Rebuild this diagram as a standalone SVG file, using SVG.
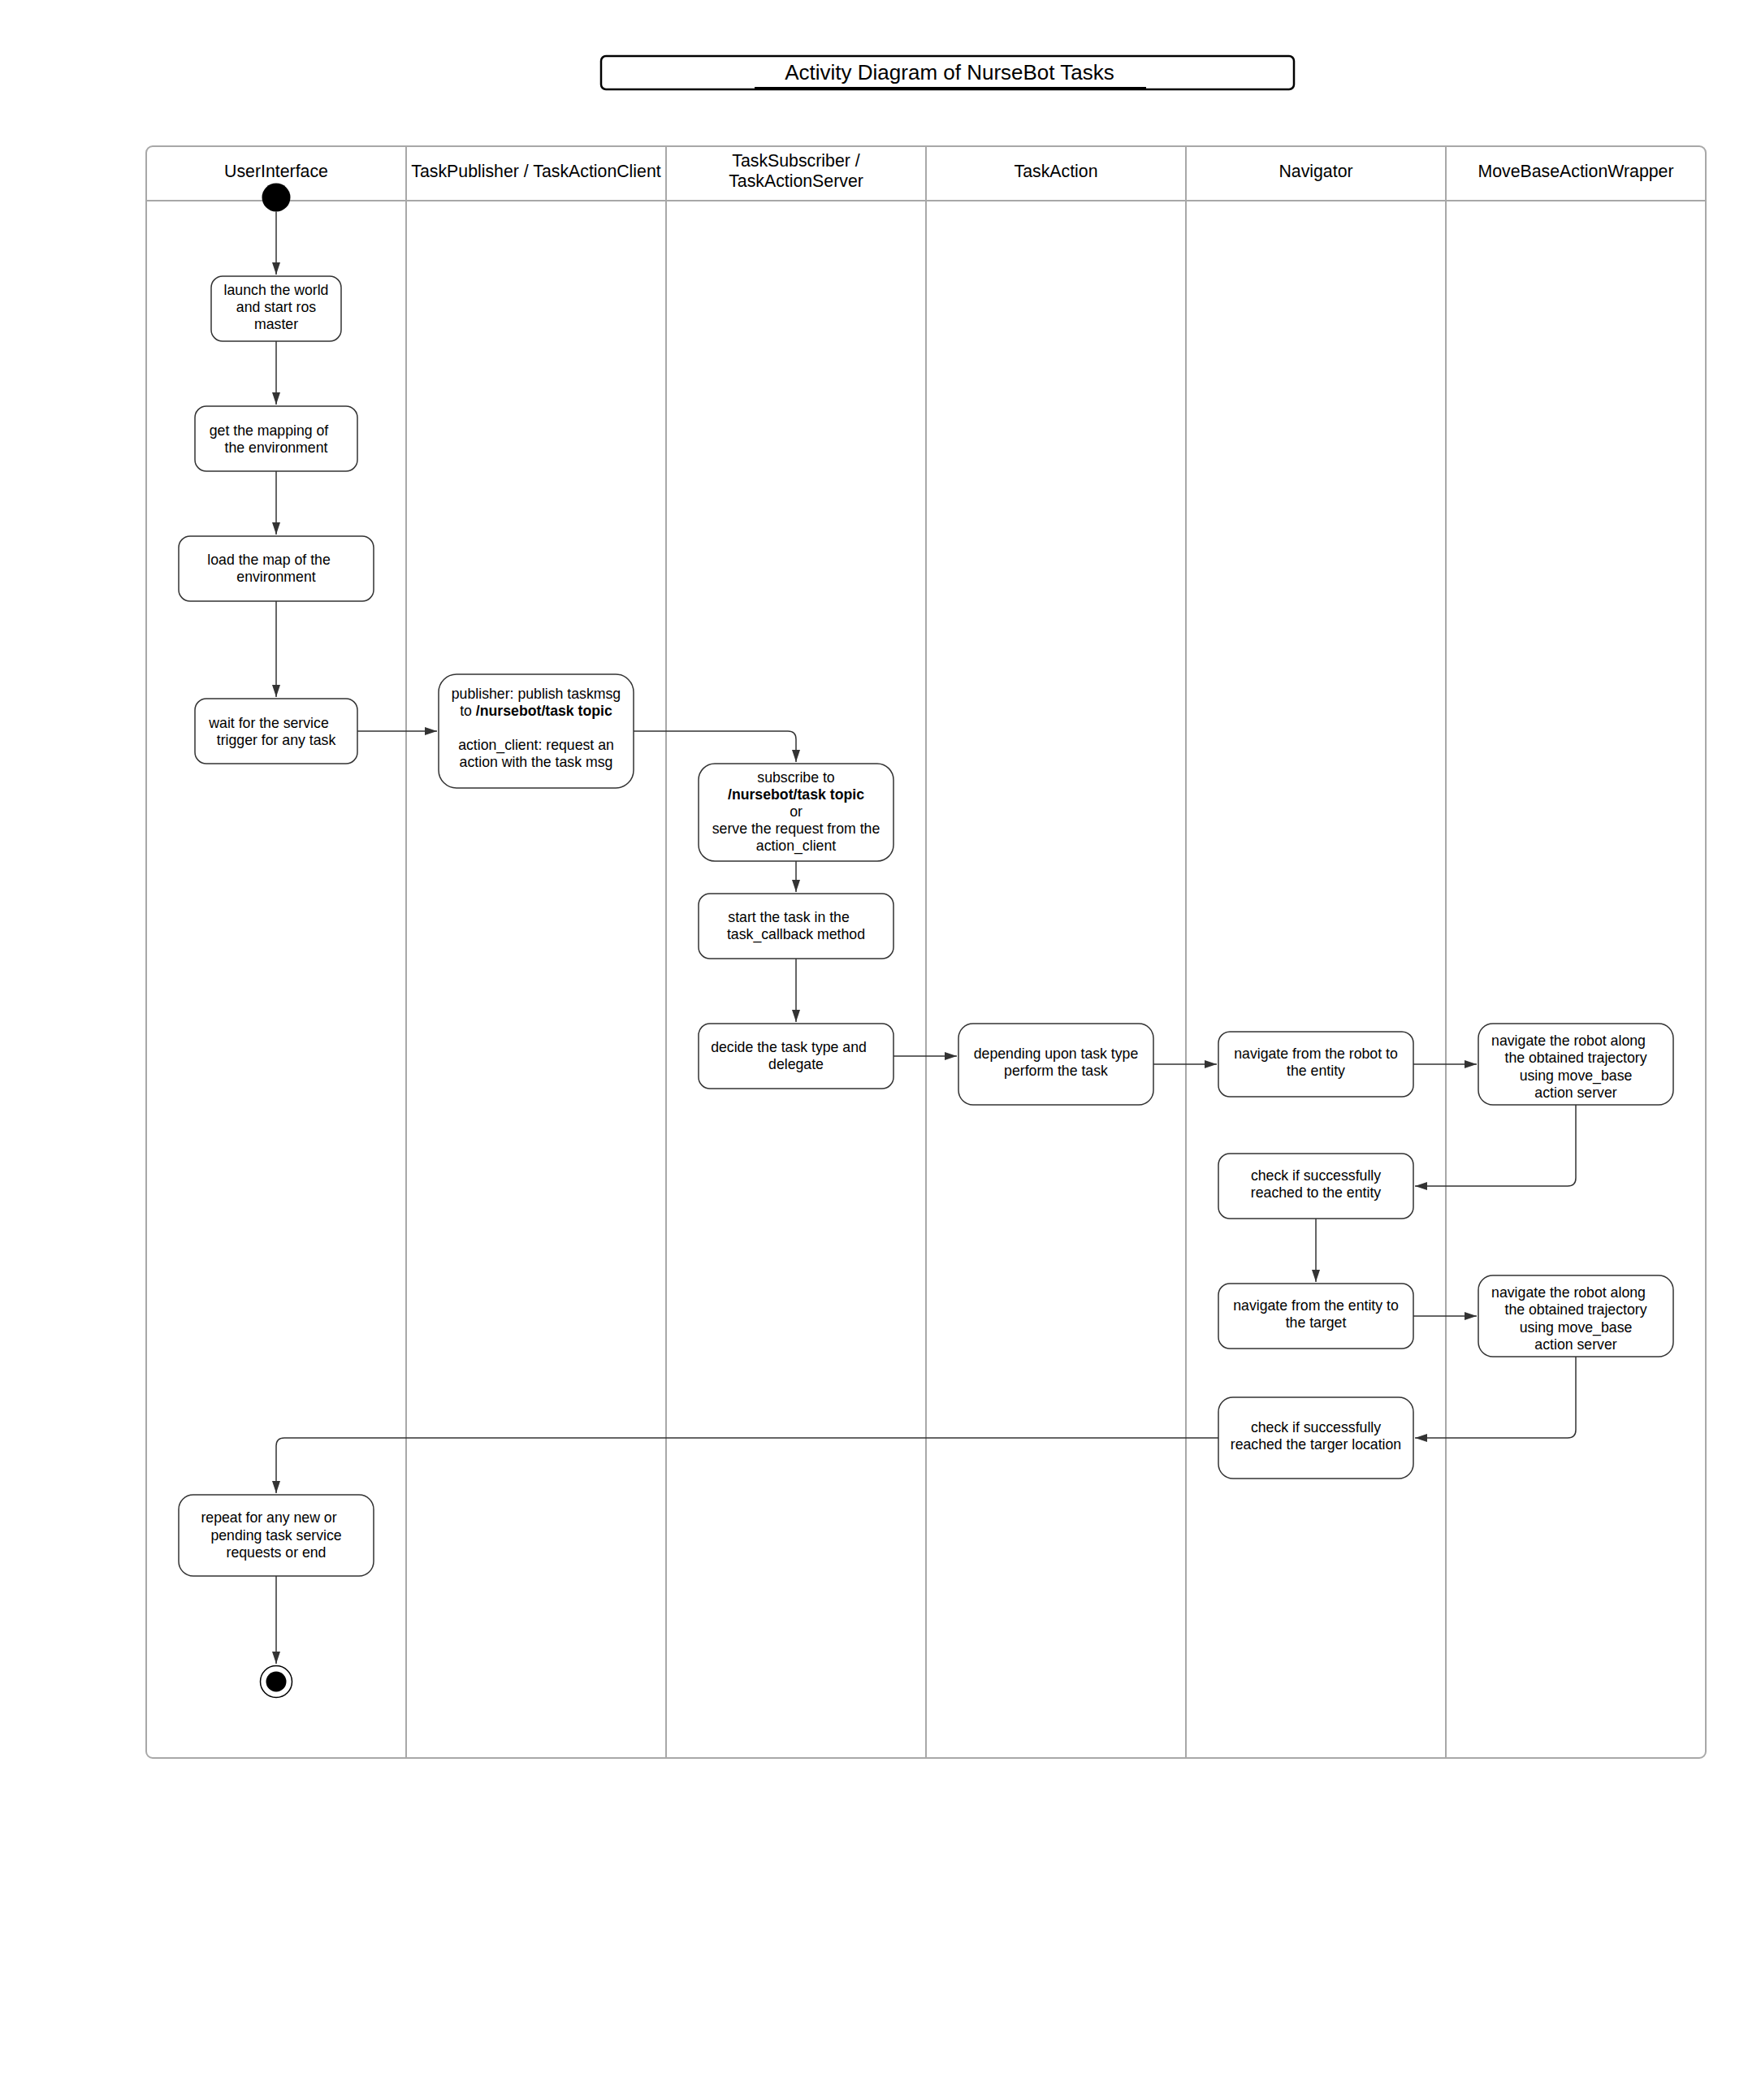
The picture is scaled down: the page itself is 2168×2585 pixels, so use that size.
<svg xmlns="http://www.w3.org/2000/svg" width="2168" height="2585" viewBox="0 0 2168 2585">
<style>
  text { font-family: "Liberation Sans", Arial, sans-serif; fill: #000; }
  .hdr { font-size: 21.3px; text-anchor: middle; }
  .t { font-size: 17.7px; text-anchor: middle; }
  .title { font-size: 26px; text-anchor: middle; }
  .node { fill: #fff; stroke: #333; stroke-width: 1.5; }
  .lane { stroke: #a8a8a8; stroke-width: 2; fill: none; }
  .conn { fill: none; stroke: #333; stroke-width: 1.5; }
  .b { font-weight: bold; }
</style>
<defs>
  <marker id="arr" viewBox="0 0 15 10" refX="15" refY="5" markerWidth="15" markerHeight="10" markerUnits="userSpaceOnUse" orient="auto">
    <path d="M0,0 L15,5 L0,10 z" fill="#333"/>
  </marker>
</defs>
<rect width="2168" height="2585" fill="#fff"/>

<g id="title">
  <rect x="740" y="69" width="853" height="41" rx="6" fill="#fff" stroke="#000" stroke-width="2.5"/>
  <line x1="929" y1="108" x2="1411" y2="108" stroke="#000" stroke-width="2"/>
  <text class="title" x="1169" y="98">Activity Diagram of NurseBot Tasks</text>
</g>

<g id="pool">
  <rect class="lane" x="180" y="180" width="1920" height="1984" rx="8"/>
  <line class="lane" x1="180" y1="247" x2="2100" y2="247" stroke-width="2.5"/>
  <line class="lane" x1="500" y1="180" x2="500" y2="2164"/>
  <line class="lane" x1="820" y1="180" x2="820" y2="2164"/>
  <line class="lane" x1="1140" y1="180" x2="1140" y2="2164"/>
  <line class="lane" x1="1460" y1="180" x2="1460" y2="2164"/>
  <line class="lane" x1="1780" y1="180" x2="1780" y2="2164"/>
  <text class="hdr" x="340" y="218">UserInterface</text>
  <text class="hdr" x="660" y="218">TaskPublisher / TaskActionClient</text>
  <text class="hdr" x="980" y="205">TaskSubscriber /</text>
  <text class="hdr" x="980" y="230">TaskActionServer</text>
  <text class="hdr" x="1300" y="218">TaskAction</text>
  <text class="hdr" x="1620" y="218">Navigator</text>
  <text class="hdr" x="1940" y="218">MoveBaseActionWrapper</text>
</g>

<g id="connectors">
  <path class="conn" marker-end="url(#arr)" d="M340 260.5 V338"/>
  <path class="conn" marker-end="url(#arr)" d="M340 420 V498"/>
  <path class="conn" marker-end="url(#arr)" d="M340 580 V658"/>
  <path class="conn" marker-end="url(#arr)" d="M340 740 V858"/>
  <path class="conn" marker-end="url(#arr)" d="M440 900 H538"/>
  <path class="conn" marker-end="url(#arr)" d="M780 900 H970 Q980 900 980 910 V938"/>
  <path class="conn" marker-end="url(#arr)" d="M980 1060 V1098"/>
  <path class="conn" marker-end="url(#arr)" d="M980 1180 V1258"/>
  <path class="conn" marker-end="url(#arr)" d="M1100 1300 H1178"/>
  <path class="conn" marker-end="url(#arr)" d="M1420 1310 H1498"/>
  <path class="conn" marker-end="url(#arr)" d="M1740 1310 H1818"/>
  <path class="conn" marker-end="url(#arr)" d="M1940 1360 V1450 Q1940 1460 1930 1460 H1742"/>
  <path class="conn" marker-end="url(#arr)" d="M1620 1500 V1578"/>
  <path class="conn" marker-end="url(#arr)" d="M1740 1620 H1818"/>
  <path class="conn" marker-end="url(#arr)" d="M1940 1670 V1760 Q1940 1770 1930 1770 H1742"/>
  <path class="conn" marker-end="url(#arr)" d="M1500 1770 H350 Q340 1770 340 1780 V1838"/>
  <path class="conn" marker-end="url(#arr)" d="M340 1940 V2048"/>
</g>

<g id="start">
  <circle cx="340" cy="243" r="17.5" fill="#000"/>
</g>

<g id="launch">
  <rect class="node" x="260" y="340" width="160" height="80" rx="14"/>
  <text class="t" x="340" y="363">launch the world</text>
  <text class="t" x="340" y="384">and start ros</text>
  <text class="t" x="340" y="405">master</text>
</g>

<g id="mapping">
  <rect class="node" x="240" y="500" width="200" height="80" rx="14"/>
  <text class="t" x="331" y="536">get the mapping of</text>
  <text class="t" x="340" y="557">the environment</text>
</g>

<g id="loadmap">
  <rect class="node" x="220" y="660" width="240" height="80" rx="14"/>
  <text class="t" x="331" y="695">load the map of the</text>
  <text class="t" x="340" y="716">environment</text>
</g>

<g id="wait">
  <rect class="node" x="240" y="860" width="200" height="80" rx="14"/>
  <text class="t" x="331" y="896">wait for the service</text>
  <text class="t" x="340" y="917">trigger for any task</text>
</g>

<g id="publisher">
  <rect class="node" x="540" y="830" width="240" height="140" rx="22"/>
  <text class="t" x="660" y="860">publisher: publish taskmsg</text>
  <text class="t" x="660" y="881">to <tspan class="b">/nursebot/task topic</tspan></text>
  <text class="t" x="660" y="923">action_client: request an</text>
  <text class="t" x="660" y="944">action with the task msg</text>
</g>

<g id="subscribe">
  <rect class="node" x="860" y="940" width="240" height="120" rx="20"/>
  <text class="t" x="980" y="963">subscribe to</text>
  <text class="t b" x="980" y="984">/nursebot/task topic</text>
  <text class="t" x="980" y="1005">or</text>
  <text class="t" x="980" y="1026">serve the request from the</text>
  <text class="t" x="980" y="1047">action_client</text>
</g>

<g id="starttask">
  <rect class="node" x="860" y="1100" width="240" height="80" rx="14"/>
  <text class="t" x="971" y="1135">start the task in the</text>
  <text class="t" x="980" y="1156">task_callback method</text>
</g>

<g id="decide">
  <rect class="node" x="860" y="1260" width="240" height="80" rx="14"/>
  <text class="t" x="971" y="1295">decide the task type and</text>
  <text class="t" x="980" y="1316">delegate</text>
</g>

<g id="depending">
  <rect class="node" x="1180" y="1260" width="240" height="100" rx="18"/>
  <text class="t" x="1300" y="1303">depending upon task type</text>
  <text class="t" x="1300" y="1324">perform the task</text>
</g>

<g id="nav1">
  <rect class="node" x="1500" y="1270" width="240" height="80" rx="14"/>
  <text class="t" x="1620" y="1303">navigate from the robot to</text>
  <text class="t" x="1620" y="1324">the entity</text>
</g>

<g id="along1">
  <rect class="node" x="1820" y="1260" width="240" height="100" rx="18"/>
  <text class="t" x="1931" y="1287">navigate the robot along</text>
  <text class="t" x="1940" y="1308">the obtained trajectory</text>
  <text class="t" x="1940" y="1330">using move_base</text>
  <text class="t" x="1940" y="1351">action server</text>
</g>

<g id="checkentity">
  <rect class="node" x="1500" y="1420" width="240" height="80" rx="14"/>
  <text class="t" x="1620" y="1453">check if successfully</text>
  <text class="t" x="1620" y="1474">reached to the entity</text>
</g>

<g id="nav2">
  <rect class="node" x="1500" y="1580" width="240" height="80" rx="14"/>
  <text class="t" x="1620" y="1613">navigate from the entity to</text>
  <text class="t" x="1620" y="1634">the target</text>
</g>

<g id="along2">
  <rect class="node" x="1820" y="1570" width="240" height="100" rx="18"/>
  <text class="t" x="1931" y="1597">navigate the robot along</text>
  <text class="t" x="1940" y="1618">the obtained trajectory</text>
  <text class="t" x="1940" y="1640">using move_base</text>
  <text class="t" x="1940" y="1661">action server</text>
</g>

<g id="checktarget">
  <rect class="node" x="1500" y="1720" width="240" height="100" rx="18"/>
  <text class="t" x="1620" y="1763">check if successfully</text>
  <text class="t" x="1620" y="1784">reached the targer location</text>
</g>

<g id="repeat">
  <rect class="node" x="220" y="1840" width="240" height="100" rx="18"/>
  <text class="t" x="331" y="1874">repeat for any new or</text>
  <text class="t" x="340" y="1896">pending task service</text>
  <text class="t" x="340" y="1917">requests or end</text>
</g>

<g id="end">
  <circle cx="340" cy="2070" r="19.5" fill="#fff" stroke="#000" stroke-width="1.5"/>
  <circle cx="340" cy="2070" r="12.5" fill="#000"/>
</g>
</svg>
